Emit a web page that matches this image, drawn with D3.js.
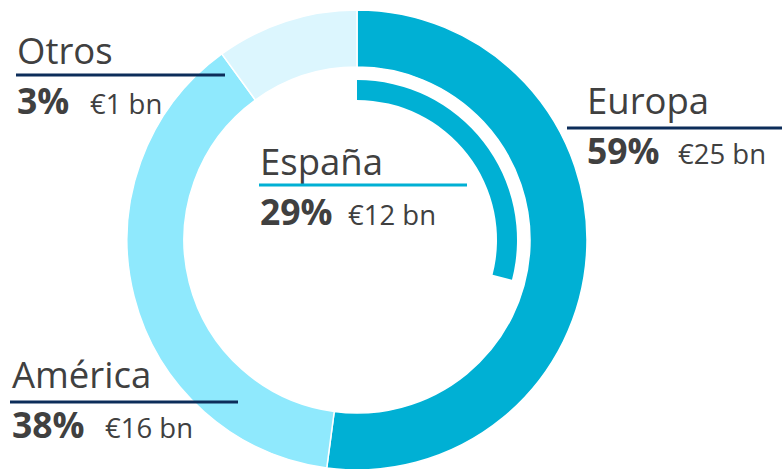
<!DOCTYPE html>
<html>
<head>
<meta charset="utf-8">
<script src="https://cdn.jsdelivr.net/npm/d3@7"></script>
<style>
  html, body { margin: 0; padding: 0; background: #fff; }
  svg { display: block; font-family: "Open Sans", sans-serif; }
</style>
</head>
<body>
<svg id="chart" width="782" height="469"></svg>
<script>
// ring slices, clockwise from 12 o'clock
const regions = ["Europa", "América", "Otros"];
const ringShare = [52.1, 37.9, 10];      // share of the ring as drawn
const pctLabels = ["59%", "38%", "3%"];
const amountLabels = ["€25 bn", "€16 bn", "€1 bn"];
const ringColors = ["#00b0d4", "#8fe9fd", "#dcf6fe"];

// inner arc for Spain
const spainName = "España";
const spainPct = 29;
const spainAmount = "€12 bn";

const W = 782, H = 469;
const cx = 357, cy = 240;
const svg = d3.select("#chart");

const pie = d3.pie().sort(null).value(d => d.v);
const arc = d3.arc().innerRadius(173).outerRadius(230);

const slices = regions.map((r, i) => ({ name: r, v: ringShare[i], color: ringColors[i] }));

const g = svg.append("g").attr("transform", `translate(${cx},${cy})`);
g.selectAll("path.slice")
  .data(pie(slices))
  .join("path")
  .attr("class", "slice")
  .attr("fill", d => d.data.color)
  .attr("stroke", "#fff")
  .attr("stroke-width", 1.5)
  .attr("d", arc);

// Spain inner arc
const spainScale = d3.scaleLinear().domain([0, 100]).range([0, 2 * Math.PI]);
g.append("path")
  .attr("fill", ringColors[0])
  .attr("d", d3.arc().innerRadius(140).outerRadius(160)
    .startAngle(0).endAngle(spainScale(spainPct))());

// labels
const labelPos = {
  "Europa":  { x: 587, y: 114, line: [567, 782, 128], lineColor: "#0c2d5a", amtX: 678 },
  "América": { x: 12,  y: 388, line: [10, 238, 402],  lineColor: "#0c2d5a", amtX: 105 },
  "Otros":   { x: 17,  y: 64,  line: [16, 225, 75],   lineColor: "#0c2d5a", amtX: 90 },
  "España":  { x: 260, y: 175, line: [259, 467, 185], lineColor: "#00b0d4", amtX: 348 }
};

const labels = regions.map((r, i) => ({ name: r, pct: pctLabels[i], amt: amountLabels[i] }));
labels.push({ name: spainName, pct: spainPct + "%", amt: spainAmount });

const lg = svg.append("g");
labels.forEach(d => {
  const p = labelPos[d.name];
  lg.append("text")
    .attr("x", p.x).attr("y", p.y)
    .attr("fill", "#404040")
    .attr("font-size", 36.5)
    .text(d.name);
  lg.append("line")
    .attr("x1", p.line[0]).attr("x2", p.line[1])
    .attr("y1", p.line[2]).attr("y2", p.line[2])
    .attr("stroke", p.lineColor)
    .attr("stroke-width", 3);
  lg.append("text")
    .attr("x", p.x).attr("y", p.y + 50)
    .attr("fill", "#404040")
    .attr("font-size", 35.5)
    .attr("font-weight", "bold")
    .text(d.pct);
  lg.append("text")
    .attr("x", p.amtX).attr("y", p.y + 50)
    .attr("fill", "#404040")
    .attr("font-size", 27.5)
    .text(d.amt);
});
</script>
</body>
</html>
